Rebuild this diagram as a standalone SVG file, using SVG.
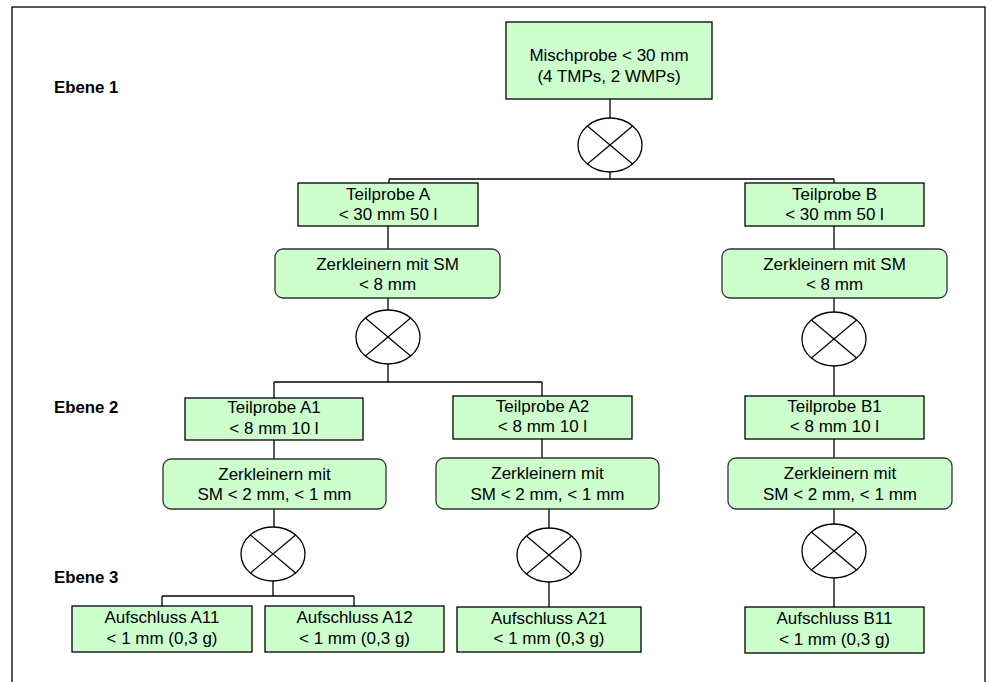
<svg xmlns="http://www.w3.org/2000/svg" xmlns:xlink="http://www.w3.org/1999/xlink" width="998" height="682" viewBox="0 0 998 682">
<style>
.box{fill:#ccffcc;stroke:#000;stroke-width:1.3}
.rbox{fill:#ccffcc;stroke:#333;stroke-width:1.3}
.t{font-family:"Liberation Sans",Arial,sans-serif;font-size:17px;fill:#000;text-anchor:middle}
.lvl{font-family:"Liberation Sans",Arial,sans-serif;font-size:16.8px;font-weight:bold;fill:#000}
.ln{fill:none;stroke:#000;stroke-width:1.3}
</style>
<defs>
<g id="mix">
<ellipse cx="0" cy="0" rx="32" ry="27" fill="#fff" stroke="#000" stroke-width="1.3"/>
<line x1="-22.6" y1="-19" x2="22.6" y2="19" stroke="#000" stroke-width="1.2"/>
<line x1="-22.6" y1="19" x2="22.6" y2="-19" stroke="#000" stroke-width="1.2"/>
</g>
</defs>
<rect x="12" y="7" width="973" height="690" fill="#fff" stroke="#000" stroke-width="1.3"/>
<g id="labels">
<text class="lvl" x="54" y="93">Ebene 1</text>
<text class="lvl" x="54" y="413">Ebene 2</text>
<text class="lvl" x="54" y="583">Ebene 3</text>
</g>
<g id="connectors">
<path class="ln" d="M610 99V120M610 172V179M389 179H834M389 179V183M834 179V183"/>
<path class="ln" d="M388 226V249M388 298V310M388 364V382M274 382H542M274 382V398M542 382V396"/>
<path class="ln" d="M834 226V249M834 298V312M834 366V396M834 439V458M834 509V524M834 578V607"/>
<path class="ln" d="M274 440V459M274 509V527M273 581V596M162 596H354M162 596V606M354 596V606"/>
<path class="ln" d="M542 439V458M549 509V528M549 582V607"/>
</g>
<g id="mixers">
<use xlink:href="#mix" href="#mix" x="610" y="145"/>
<use xlink:href="#mix" href="#mix" x="388" y="337"/>
<use xlink:href="#mix" href="#mix" x="834" y="339"/>
<use xlink:href="#mix" href="#mix" x="273" y="554"/>
<use xlink:href="#mix" href="#mix" x="549" y="555"/>
<use xlink:href="#mix" href="#mix" x="834" y="551"/>
</g>
<g id="n-misch">
<rect class="box" x="506" y="22" width="206" height="77"/>
<text class="t" x="609" y="61">Mischprobe &lt; 30 mm</text>
<text class="t" x="609" y="82">(4 TMPs, 2 WMPs)</text>
</g>
<g id="n-tA">
<rect class="box" x="298" y="183" width="180" height="43"/>
<text class="t" x="388" y="199.5">Teilprobe A</text>
<text class="t" x="388" y="220">&lt; 30 mm 50 l</text>
</g>
<g id="n-tB">
<rect class="box" x="745" y="183" width="179" height="43"/>
<text class="t" x="834.5" y="199.5">Teilprobe B</text>
<text class="t" x="834.5" y="220">&lt; 30 mm 50 l</text>
</g>
<g id="n-zA">
<rect class="rbox" x="275" y="249" width="225" height="49" rx="8"/>
<text class="t" x="387.5" y="270">Zerkleinern mit SM</text>
<text class="t" x="387.5" y="289.5">&lt; 8 mm</text>
</g>
<g id="n-zB">
<rect class="rbox" x="722" y="249" width="225" height="49" rx="8"/>
<text class="t" x="834.5" y="270">Zerkleinern mit SM</text>
<text class="t" x="834.5" y="289.5">&lt; 8 mm</text>
</g>
<g id="n-tA1">
<rect class="box" x="185" y="398" width="178" height="42"/>
<text class="t" x="274" y="413">Teilprobe A1</text>
<text class="t" x="274" y="433.5">&lt; 8 mm 10 l</text>
</g>
<g id="n-tA2">
<rect class="box" x="453" y="396" width="179" height="43"/>
<text class="t" x="542.5" y="411.5">Teilprobe A2</text>
<text class="t" x="542.5" y="432">&lt; 8 mm 10 l</text>
</g>
<g id="n-tB1">
<rect class="box" x="745" y="396" width="179" height="43"/>
<text class="t" x="834.5" y="411.5">Teilprobe B1</text>
<text class="t" x="834.5" y="432">&lt; 8 mm 10 l</text>
</g>
<g id="n-zA1">
<rect class="rbox" x="163" y="459" width="223" height="50" rx="8"/>
<text class="t" x="274.5" y="480">Zerkleinern mit</text>
<text class="t" x="274.5" y="500">SM &lt; 2 mm, &lt; 1 mm</text>
</g>
<g id="n-zA2">
<rect class="rbox" x="436" y="458" width="223" height="51" rx="8"/>
<text class="t" x="547.5" y="479">Zerkleinern mit</text>
<text class="t" x="547.5" y="499.5">SM &lt; 2 mm, &lt; 1 mm</text>
</g>
<g id="n-zB1">
<rect class="rbox" x="728" y="458" width="224" height="51" rx="8"/>
<text class="t" x="840" y="479">Zerkleinern mit</text>
<text class="t" x="840" y="499.5">SM &lt; 2 mm, &lt; 1 mm</text>
</g>
<g id="n-a11">
<rect class="box" x="72" y="606" width="180" height="46"/>
<text class="t" x="162" y="623">Aufschluss A11</text>
<text class="t" x="162" y="643.5">&lt; 1 mm (0,3 g)</text>
</g>
<g id="n-a12">
<rect class="box" x="265" y="606" width="179" height="46"/>
<text class="t" x="354.5" y="623">Aufschluss A12</text>
<text class="t" x="354.5" y="643.5">&lt; 1 mm (0,3 g)</text>
</g>
<g id="n-a21">
<rect class="box" x="457" y="607" width="184" height="45"/>
<text class="t" x="549" y="623.5">Aufschluss A21</text>
<text class="t" x="549" y="644">&lt; 1 mm (0,3 g)</text>
</g>
<g id="n-b11">
<rect class="box" x="745" y="607" width="179" height="46"/>
<text class="t" x="834.5" y="624">Aufschluss B11</text>
<text class="t" x="834.5" y="644.5">&lt; 1 mm (0,3 g)</text>
</g>
</svg>
